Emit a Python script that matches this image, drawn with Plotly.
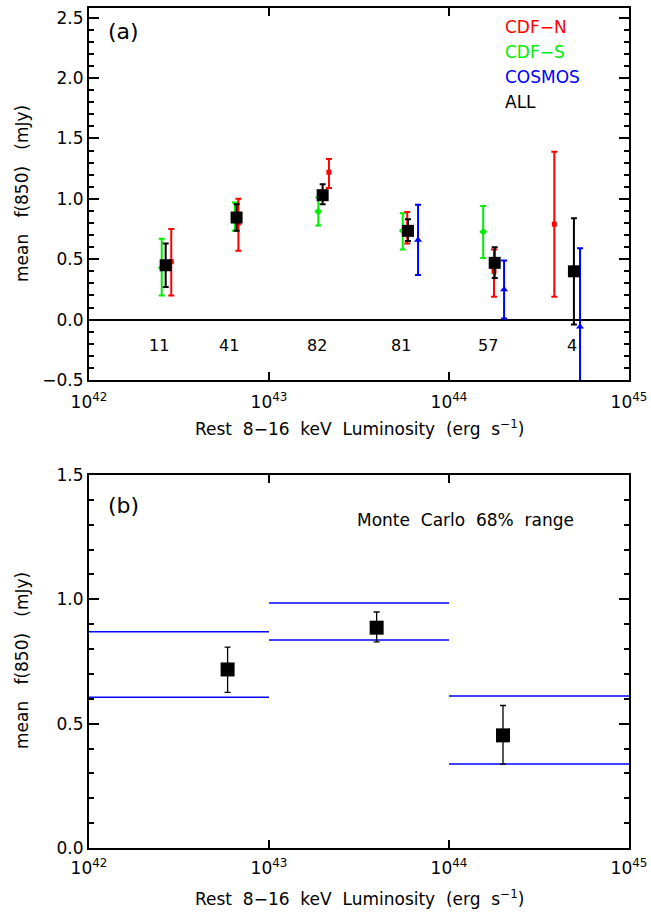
import numpy as np
import plotly.graph_objects as go

# ---------------- Panel (a) data (log10 L, mean f850, 68% low, 68% high) ----------------
cdfn_logL = [42.457, 42.83, 43.333, 43.768, 44.25, 44.585]
cdfn_f    = [0.48, 0.80, 1.22, 0.76, 0.40, 0.79]
cdfn_lo   = [0.20, 0.57, 1.09, 0.63, 0.19, 0.19]
cdfn_hi   = [0.75, 1.00, 1.33, 0.89, 0.58, 1.39]

cdfs_logL = [42.404, 42.811, 43.274, 43.743, 44.19]
cdfs_f    = [0.43, 0.85, 0.895, 0.735, 0.727]
cdfs_lo   = [0.20, 0.735, 0.78, 0.58, 0.51]
cdfs_hi   = [0.67, 0.97, 1.01, 0.88, 0.94]

cosmos_logL = [43.828, 44.306, 44.728]
cosmos_f    = [0.66, 0.25, -0.06]
cosmos_lo   = [0.37, 0.01, -1.00]
cosmos_hi   = [0.95, 0.49, 0.59]

all_logL = [42.426, 42.82, 43.298, 43.772, 44.254, 44.694]
all_f    = [0.45, 0.845, 1.03, 0.735, 0.47, 0.40]
all_lo   = [0.27, 0.735, 0.956, 0.65, 0.345, -0.04]
all_hi   = [0.63, 0.955, 1.12, 0.83, 0.60, 0.84]

count_labels = ["11", "41", "82", "81", "57", "4"]
count_logL   = [42.39, 42.78, 43.265, 43.732, 44.218, 44.682]
count_y      = -0.215

# ---------------- Panel (b) data ----------------
bin_edges_logL = [42.0, 43.0, 44.0, 45.0]
mc_lo = [0.606, 0.836, 0.338]
mc_hi = [0.870, 0.985, 0.611]
b_logL = [42.77, 43.598, 44.30]
b_f    = [0.718, 0.886, 0.453]
b_lo   = [0.626, 0.829, 0.337]
b_hi   = [0.808, 0.949, 0.573]

x_tickvals = [1e42, 1e43, 1e44, 1e45]
x_ticktext = ["10<sup>42</sup>", "10<sup>43</sup>", "10<sup>44</sup>", "10<sup>45</sup>"]

FONT = "DejaVu Sans"
FS = 17
W, H = 651, 917


def px(x):
    return x / W


def py(y):
    return 1 - y / H


def err_trace(logL, f, lo, hi, color, symbol, msize, lw, cap, xaxis, yaxis):
    f = np.array(f, dtype=float)
    return go.Scatter(
        x=np.power(10.0, np.array(logL, dtype=float)), y=f, mode="markers",
        marker=dict(color=color, symbol=symbol, size=msize, line=dict(width=0)),
        error_y=dict(type="data", symmetric=False,
                     array=np.array(hi, dtype=float) - f, arrayminus=f - np.array(lo, dtype=float),
                     color=color, thickness=lw, width=cap),
        xaxis=xaxis, yaxis=yaxis, showlegend=False, cliponaxis=True,
    )


fig = go.Figure()
fig.add_trace(err_trace(cdfs_logL, cdfs_f, cdfs_lo, cdfs_hi, "#00ee00", "diamond", 6, 2, 3, "x", "y"))
fig.add_trace(err_trace(cdfn_logL, cdfn_f, cdfn_lo, cdfn_hi, "#ff0000", "square", 5, 2, 3, "x", "y"))
fig.add_trace(err_trace(cosmos_logL, cosmos_f, cosmos_lo, cosmos_hi, "#0000ff", "triangle-up", 7, 2, 3, "x", "y"))
fig.add_trace(err_trace(all_logL, all_f, all_lo, all_hi, "#000000", "square", 12, 2, 3, "x", "y"))

# panel (b) Monte Carlo lines
lx, ly = [], []
for i in range(len(mc_lo)):
    for v in (mc_lo[i], mc_hi[i]):
        lx += [10.0 ** bin_edges_logL[i], 10.0 ** bin_edges_logL[i + 1], None]
        ly += [v, v, None]
fig.add_trace(go.Scatter(x=lx, y=ly, mode="lines", line=dict(color="#0000ff", width=1.5),
                         xaxis="x2", yaxis="y2", showlegend=False))
fig.add_trace(err_trace(b_logL, b_f, b_lo, b_hi, "#000000", "square", 14, 1.3, 3, "x2", "y2"))

xdom = [px(89), px(629)]
axis_common = dict(
    showline=True, linecolor="black", linewidth=2, mirror="ticks",
    ticks="inside", tickcolor="black", tickwidth=1.5, showgrid=False, automargin=False,
    tickfont=dict(family=FONT, size=FS, color="black"),
)

fig.update_layout(
    template="none",
    width=W, height=H, margin=dict(l=0, r=0, t=0, b=0, pad=0),
    paper_bgcolor="white", plot_bgcolor="white",
    font=dict(family=FONT, size=FS, color="black"),
    xaxis=dict(domain=xdom, type="log", range=[42, 45], anchor="y",
               tickvals=x_tickvals, ticktext=x_ticktext, ticklen=8, ticklabelstandoff=6,
               **axis_common),
    yaxis=dict(domain=[py(380), py(8)], range=[-0.5, 2.58], anchor="x",
               tickvals=[-0.5, 0, 0.5, 1.0, 1.5, 2.0, 2.5], tickformat=".1f", ticklen=10,
               minor=dict(dtick=0.1, ticks="inside", ticklen=5, tickcolor="black", tickwidth=1.5),
               zeroline=True, zerolinecolor="black", zerolinewidth=2, **axis_common),
    xaxis2=dict(domain=xdom, type="log", range=[42, 45], anchor="y2",
                tickvals=x_tickvals, ticktext=x_ticktext, ticklen=8, ticklabelstandoff=4,
                **axis_common),
    yaxis2=dict(domain=[py(848), py(475)], range=[0, 1.5], anchor="x2",
                tickvals=[0, 0.5, 1.0, 1.5], tickformat=".1f", ticklen=10,
                minor=dict(dtick=0.1, ticks="inside", ticklen=5, tickcolor="black", tickwidth=1.5),
                zeroline=False, **axis_common),
)

ann = []
# count labels in panel (a)
for lab, xl in zip(count_labels, count_logL):
    ann.append(dict(x=xl, y=count_y, xref="x", yref="y", text=lab, showarrow=False,
                    font=dict(family=FONT, size=16, color="black")))
# legend-like labels
for txt, col, yy in [("CDF−N", "#ff0000", 27), ("CDF−S", "#00ee00", 52),
                     ("COSMOS", "#0000ff", 77), ("ALL", "#000000", 102)]:
    ann.append(dict(x=px(503), y=py(yy), xref="paper", yref="paper", text=txt, showarrow=False,
                    xanchor="left", yanchor="middle", font=dict(family=FONT, size=FS, color=col)))
ann.append(dict(x=px(106), y=py(32), xref="paper", yref="paper", text="(a)", showarrow=False,
                xanchor="left", yanchor="middle", font=dict(family=FONT, size=22, color="black")))
ann.append(dict(x=px(106), y=py(505), xref="paper", yref="paper", text="(b)", showarrow=False,
                xanchor="left", yanchor="middle", font=dict(family=FONT, size=22, color="black")))
ann.append(dict(x=px(465), y=py(520), xref="paper", yref="paper", text="Monte  Carlo  68%  range",
                showarrow=False, xanchor="center", yanchor="middle",
                font=dict(family=FONT, size=FS, color="black")))
# axis titles
for yy in (194, 661):
    ann.append(dict(x=px(22), y=py(yy), xref="paper", yref="paper", text="mean   f(850)   (mJy)",
                    showarrow=False, textangle=-90, xanchor="center", yanchor="middle",
                    font=dict(family=FONT, size=FS, color="black")))
for yy in (428, 898):
    ann.append(dict(x=px(359), y=py(yy), xref="paper", yref="paper",
                    text="Rest  8−16  keV  Luminosity  (erg  s<sup>−1</sup>)",
                    showarrow=False, xanchor="center", yanchor="middle",
                    font=dict(family=FONT, size=FS, color="black")))
fig.update_layout(annotations=ann)

fig.write_html("out.html")
